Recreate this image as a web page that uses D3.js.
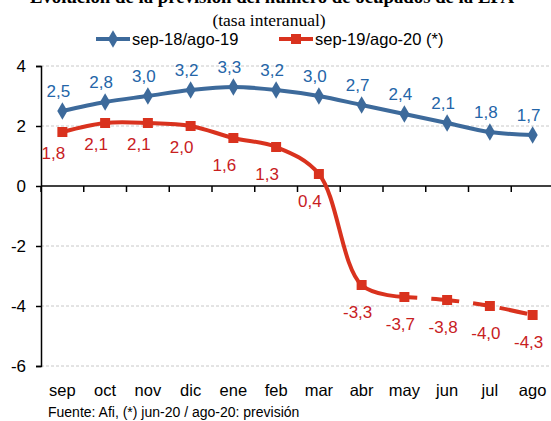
<!DOCTYPE html>
<html>
<head>
<meta charset="utf-8">
<script src="https://cdn.jsdelivr.net/npm/d3@7"></script>
<style>
  body { margin: 0; background: #fff; }
  svg { display: block; font-family: Arial, "Liberation Sans", sans-serif; }
  .grid line { stroke: #c8c8c8; stroke-dasharray: 3,2; }
</style>
</head>
<body>
<svg id="chart" width="551" height="421"></svg>
<script>
// --- data ---
var months = ['sep', 'oct', 'nov', 'dic', 'ene', 'feb', 'mar', 'abr', 'may', 'jun', 'jul', 'ago'];
var serie1819 = [2.5, 2.8, 3.0, 3.2, 3.3, 3.2, 3.0, 2.7, 2.4, 2.1, 1.8, 1.7];
var serie1920 = [1.8, 2.1, 2.1, 2.0, 1.6, 1.3, 0.4, -3.3, -3.7, -3.8, -4.0, -4.3];
var yTicks = [-6, -4, -2, 0, 2, 4];
var seriesNames = ['sep-18/ago-19', 'sep-19/ago-20 (*)'];
var firstForecast = 8; // may: from here on the red line is dashed

var blue = '#3d6a9b', blueText = '#2465a8',
    red = '#d9321e', redText = '#c8201e';

var svg = d3.select('#chart');

var x = d3.scaleBand().domain(months).range([41, 554]);
var y = d3.scaleLinear().domain([-6, 4]).range([366, 66]);
var cx = function(m) { return x(m) + x.bandwidth() / 2; };

// title (cut at the top edge, as in the original) and subtitle
svg.append('text')
    .attr('x', 272).attr('y', 3)
    .attr('text-anchor', 'middle')
    .style('font-family', '"Liberation Serif", "Times New Roman", serif')
    .style('font-weight', 'bold').style('font-size', '18.8px')
    .text('Evolución de la previsión del número de ocupados de la EPA');

svg.append('text')
    .attr('x', 269).attr('y', 26)
    .attr('text-anchor', 'middle')
    .style('font-family', '"Liberation Serif", "Times New Roman", serif')
    .style('font-size', '17.5px')
    .text('(tasa interanual)');

// gridlines
svg.append('g').attr('class', 'grid')
    .selectAll('line').data(yTicks.filter(function(d) { return d !== 0; }))
    .enter().append('line')
        .attr('x1', 41).attr('x2', 551)
        .attr('y1', function(d) { return y(d); })
        .attr('y2', function(d) { return y(d); });

// y axis
var yAxis = svg.append('g')
    .attr('transform', 'translate(41,0)')
    .call(d3.axisLeft(y).tickValues(yTicks).tickSize(5).tickFormat(d3.format('d')));
yAxis.select('.domain').attr('stroke', '#000').attr('stroke-width', 1.5);
yAxis.selectAll('.tick line').attr('stroke', '#000').attr('stroke-width', 1.5);
yAxis.selectAll('.tick text')
    .attr('x', -15)
    .style('font-size', '17px').style('font-family', 'Arial, "Liberation Sans", sans-serif')
    .attr('fill', '#000')
    .text(function(d) { return d < 0 ? '-' + Math.abs(d) : d; });

// x axis at zero, ticks at category boundaries
svg.append('line')
    .attr('x1', 41).attr('x2', 551)
    .attr('y1', y(0)).attr('y2', y(0))
    .attr('stroke', '#000').attr('stroke-width', 1.5);
svg.append('g').selectAll('line').data(months)
    .enter().append('line')
        .attr('x1', function(m) { return x(m); })
        .attr('x2', function(m) { return x(m); })
        .attr('y1', y(0)).attr('y2', y(0) + 6)
        .attr('stroke', '#000').attr('stroke-width', 1.5);

svg.append('g').selectAll('text').data(months)
    .enter().append('text')
        .attr('x', cx)
        .attr('y', 396)
        .attr('text-anchor', 'middle')
        .style('font-size', '16.5px')
        .text(function(m) { return m; });

// lines
var line = d3.line()
    .x(function(d) { return cx(d.m); })
    .y(function(d) { return y(d.v); })
    .curve(d3.curveCatmullRom.alpha(0.5));

var pts1819 = months.map(function(m, i) { return { m: m, v: serie1819[i] }; });
var pts1920 = months.map(function(m, i) { return { m: m, v: serie1920[i] }; });

svg.append('path').datum(pts1819)
    .attr('d', line).attr('fill', 'none')
    .attr('stroke', blue).attr('stroke-width', 4);

svg.append('path').datum(pts1920.slice(0, firstForecast + 1))
    .attr('d', line).attr('fill', 'none')
    .attr('stroke', red).attr('stroke-width', 4);

svg.append('path').datum(pts1920.slice(firstForecast))
    .attr('d', line).attr('fill', 'none')
    .attr('stroke', red).attr('stroke-width', 4)
    .attr('stroke-dasharray', '13,14,28,14');

// markers
var diamond = d3.symbol().type(d3.symbolDiamond).size(90);
var square = d3.symbol().type(d3.symbolSquare).size(100);

svg.append('g').selectAll('path').data(pts1819)
    .enter().append('path')
        .attr('d', diamond)
        .attr('transform', function(d) { return 'translate(' + cx(d.m) + ',' + y(d.v) + ')'; })
        .attr('fill', blue);

svg.append('g').selectAll('path').data(pts1920)
    .enter().append('path')
        .attr('d', square)
        .attr('transform', function(d) { return 'translate(' + cx(d.m) + ',' + y(d.v) + ')'; })
        .attr('fill', red);

// data labels
var fmt = function(v) { return d3.format('.1f')(v).replace('.', ',').replace('−', '-'); };

svg.append('g').selectAll('text').data(pts1819)
    .enter().append('text')
        .attr('x', function(d) { return cx(d.m) - 4; })
        .attr('y', function(d) { return y(d.v) - 14; })
        .attr('text-anchor', 'middle')
        .style('font-size', '17px')
        .attr('fill', blueText)
        .text(function(d) { return fmt(d.v); });

svg.append('g').selectAll('text').data(pts1920)
    .enter().append('text')
        .attr('x', function(d, i) { return cx(d.m) - (i < 7 ? 9 : 4); })
        .attr('y', function(d, i) { return y(d.v) + (i < 4 ? 27 : 33); })
        .attr('text-anchor', 'middle')
        .style('font-size', '17px')
        .attr('fill', redText)
        .text(function(d) { return fmt(d.v); });

// legend
var legend = svg.append('g');
[{ x: 96, c: blue, sym: diamond }, { x: 279, c: red, sym: square }].forEach(function(l, i) {
    legend.append('line')
        .attr('x1', l.x).attr('x2', l.x + 34)
        .attr('y1', 39).attr('y2', 39)
        .attr('stroke', l.c).attr('stroke-width', 4);
    legend.append('path')
        .attr('d', l.sym)
        .attr('transform', 'translate(' + (l.x + 17) + ',39)')
        .attr('fill', l.c);
    legend.append('text')
        .attr('x', l.x + 36).attr('y', 45)
        .style('font-size', '16.5px')
        .text(seriesNames[i]);
});

// source
svg.append('text')
    .attr('x', 48).attr('y', 417)
    .style('font-size', '14px')
    .text('Fuente: Afi, (*)  jun-20 / ago-20: previsión');
</script>
</body>
</html>
